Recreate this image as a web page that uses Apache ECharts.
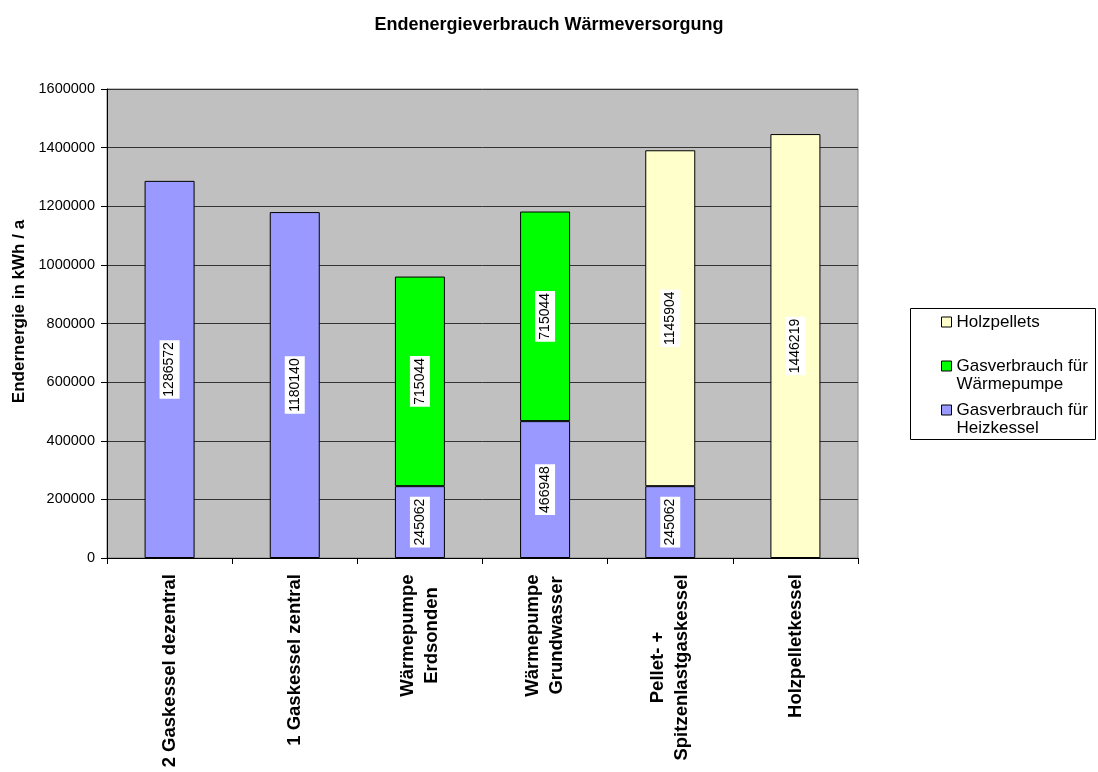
<!DOCTYPE html>
<html>
<head>
<meta charset="utf-8">
<script src="https://cdn.jsdelivr.net/npm/echarts@6/dist/echarts.min.js"></script>
<style>
  html, body { margin: 0; padding: 0; background: #fff; }
  #chart { width: 1098px; height: 772px; }
</style>
</head>
<body>
<div id="chart"></div>
<script>
// Heating variants (x axis)
const categories = [
  '2 Gaskessel dezentral',
  '1 Gaskessel zentral',
  'Wärmepumpe\nErdsonden',
  'Wärmepumpe\nGrundwasser',
  'Pellet- +\nSpitzenlastgaskessel',
  'Holzpelletkessel'
];

// Final energy per source, kWh / a ('-' = not used by that variant)
const gasHeizkessel = [1286572, 1180140, 245062, 466948, 245062, '-'];
const gasWaermepumpe = ['-', '-', 715044, 715044, '-', '-'];
const holzpellets = ['-', '-', '-', '-', 1145904, 1446219];

const yTicks = { min: 0, max: 1600000, interval: 200000 };

const FONT = '"Liberation Sans", Arial, sans-serif';
const X_FONT_SIZE = 18.5;

// Legend entries: a blank first line keeps the swatch level with the first text line
const legendText = {
  'Holzpellets': ' \nHolzpellets\n ',
  'Gasverbrauch für Wärmepumpe': ' \nGasverbrauch für\nWärmepumpe',
  'Gasverbrauch für Heizkessel': ' \nGasverbrauch für\nHeizkessel'
};

// Two-line category labels: centre each line within the block width
const measureCtx = document.createElement('canvas').getContext('2d');
measureCtx.font = 'bold ' + X_FONT_SIZE + 'px ' + FONT;
const xRich = {};
categories.forEach(function (c, i) {
  const lines = c.split('\n');
  if (lines.length > 1) {
    const w = Math.max.apply(null, lines.map(function (l) { return measureCtx.measureText(l).width; }));
    xRich['c' + i] = {
      width: Math.ceil(w),
      align: 'center',
      fontFamily: FONT,
      fontSize: X_FONT_SIZE,
      fontWeight: 'bold',
      color: '#000',
      lineHeight: 24
    };
  }
});

const valueLabel = {
  show: true,
  position: 'inside',
  rotate: 90,
  color: '#000',
  fontFamily: FONT,
  fontSize: 14,
  lineHeight: 15,
  backgroundColor: '#fff',
  padding: [3, 2, 2, 2]
};

function barSeries(name, data, color) {
  return {
    name: name,
    type: 'bar',
    stack: 'total',
    data: data,
    barWidth: 50,
    itemStyle: { color: color, borderColor: '#000', borderWidth: 1 },
    label: valueLabel,
    animation: false
  };
}

const chart = echarts.init(document.getElementById('chart'), null, { renderer: 'canvas' });
chart.setOption({
  animation: false,
  backgroundColor: '#fff',
  title: {
    text: 'Endenergieverbrauch Wärmeversorgung',
    left: 'center',
    top: 16,
    padding: 0,
    textStyle: { fontFamily: FONT, fontSize: 18, fontWeight: 'bold', color: '#000' }
  },
  grid: {
    left: 107, right: 240, top: 89, bottom: 214,
    show: true,
    backgroundColor: '#c0c0c0',
    borderColor: '#808080',
    borderWidth: 1
  },
  // legend frame
  graphic: [{
    type: 'rect',
    left: 910,
    top: 308,
    shape: { width: 185, height: 131 },
    style: { fill: '#fff', stroke: '#000', lineWidth: 1 },
    z: -1
  }],
  legend: {
    orient: 'vertical',
    left: 941,
    top: 295,
    padding: 0,
    itemGap: -10,
    itemWidth: 10,
    itemHeight: 10,
    icon: 'rect',
    data: ['Holzpellets', 'Gasverbrauch für Wärmepumpe', 'Gasverbrauch für Heizkessel'],
    formatter: function (n) { return legendText[n]; },
    itemStyle: { borderColor: '#000', borderWidth: 1 },
    textStyle: { fontFamily: FONT, fontSize: 17, color: '#000', lineHeight: 18 }
  },
  xAxis: {
    type: 'category',
    data: categories,
    axisLine: { lineStyle: { color: '#000', width: 1 } },
    axisTick: { show: true, length: 6, lineStyle: { color: '#000' } },
    axisLabel: {
      rotate: 90,
      margin: 16,
      interval: 0,
      fontFamily: FONT,
      fontSize: X_FONT_SIZE,
      fontWeight: 'bold',
      color: '#000',
      lineHeight: 24,
      formatter: function (value, idx) {
        const lines = value.split('\n');
        if (lines.length === 1) return value;
        return lines.map(function (l) { return '{c' + idx + '|' + l + '}'; }).join('\n');
      },
      rich: xRich
    }
  },
  yAxis: {
    type: 'value',
    min: yTicks.min,
    max: yTicks.max,
    interval: yTicks.interval,
    name: 'Endernergie in kWh / a',
    nameLocation: 'middle',
    nameGap: 77,
    nameTextStyle: {
      fontFamily: FONT, fontSize: 17, fontWeight: 'bold', color: '#000',
      padding: [0, 0, 0, 24]
    },
    axisLine: { show: true, lineStyle: { color: '#000', width: 1 } },
    axisTick: { show: true, length: 6, lineStyle: { color: '#000' } },
    axisLabel: {
      fontFamily: FONT, fontSize: 14.5, color: '#000', margin: 12,
      formatter: function (v) { return String(v); }
    },
    splitLine: { show: true, lineStyle: { color: '#333', width: 1 } }
  },
  series: [
    barSeries('Gasverbrauch für Heizkessel', gasHeizkessel, '#9999ff'),
    barSeries('Gasverbrauch für Wärmepumpe', gasWaermepumpe, '#00ff00'),
    barSeries('Holzpellets', holzpellets, '#ffffcc')
  ]
});
</script>
</body>
</html>
